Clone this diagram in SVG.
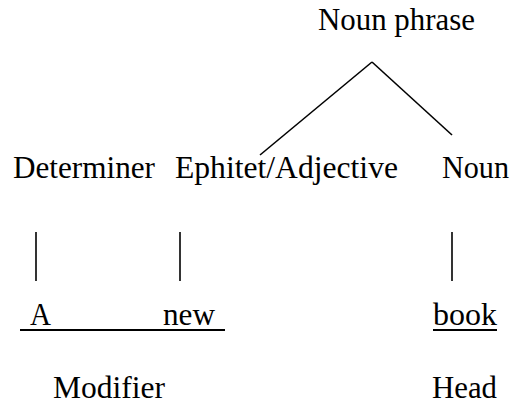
<svg xmlns="http://www.w3.org/2000/svg" width="514" height="404" viewBox="0 0 514 404">
<style>
text{font-family:"Liberation Serif","Times New Roman",serif;font-size:31px;fill:#000}
.ln{stroke:#000;stroke-width:1.6;fill:none}
.ul{stroke:#000;stroke-width:2;fill:none}
</style>
<rect width="514" height="404" fill="#fff"/>
<g id="connectors">
<line class="ln" x1="372" y1="62" x2="260" y2="155"/>
<line class="ln" x1="372" y1="62" x2="452" y2="135"/>
<line class="ln" x1="36" y1="232" x2="36" y2="281"/>
<line class="ln" x1="180" y1="232" x2="180" y2="281"/>
<line class="ln" x1="452" y1="232" x2="452" y2="281"/>
<line class="ul" x1="20" y1="330" x2="225" y2="330"/>
<line class="ul" x1="433" y1="330" x2="497" y2="330"/>
</g>
<g id="noun-phrase"><text x="318" y="30" textLength="157" lengthAdjust="spacingAndGlyphs">Noun phrase</text></g>
<g id="determiner"><text x="13" y="178" textLength="142" lengthAdjust="spacingAndGlyphs">Determiner</text></g>
<g id="ephitet"><text x="175" y="178" textLength="223" lengthAdjust="spacingAndGlyphs">Ephitet/Adjective</text></g>
<g id="noun"><text x="442" y="178" textLength="67" lengthAdjust="spacingAndGlyphs">Noun</text></g>
<g id="a"><text x="30" y="325" textLength="21" lengthAdjust="spacingAndGlyphs">A</text></g>
<g id="new"><text x="163" y="325" textLength="52" lengthAdjust="spacingAndGlyphs">new</text></g>
<g id="book"><text x="433" y="325" textLength="64" lengthAdjust="spacingAndGlyphs">book</text></g>
<g id="modifier"><text x="53" y="398" textLength="112" lengthAdjust="spacingAndGlyphs">Modifier</text></g>
<g id="head"><text x="432" y="398" textLength="65" lengthAdjust="spacingAndGlyphs">Head</text></g>
</svg>
